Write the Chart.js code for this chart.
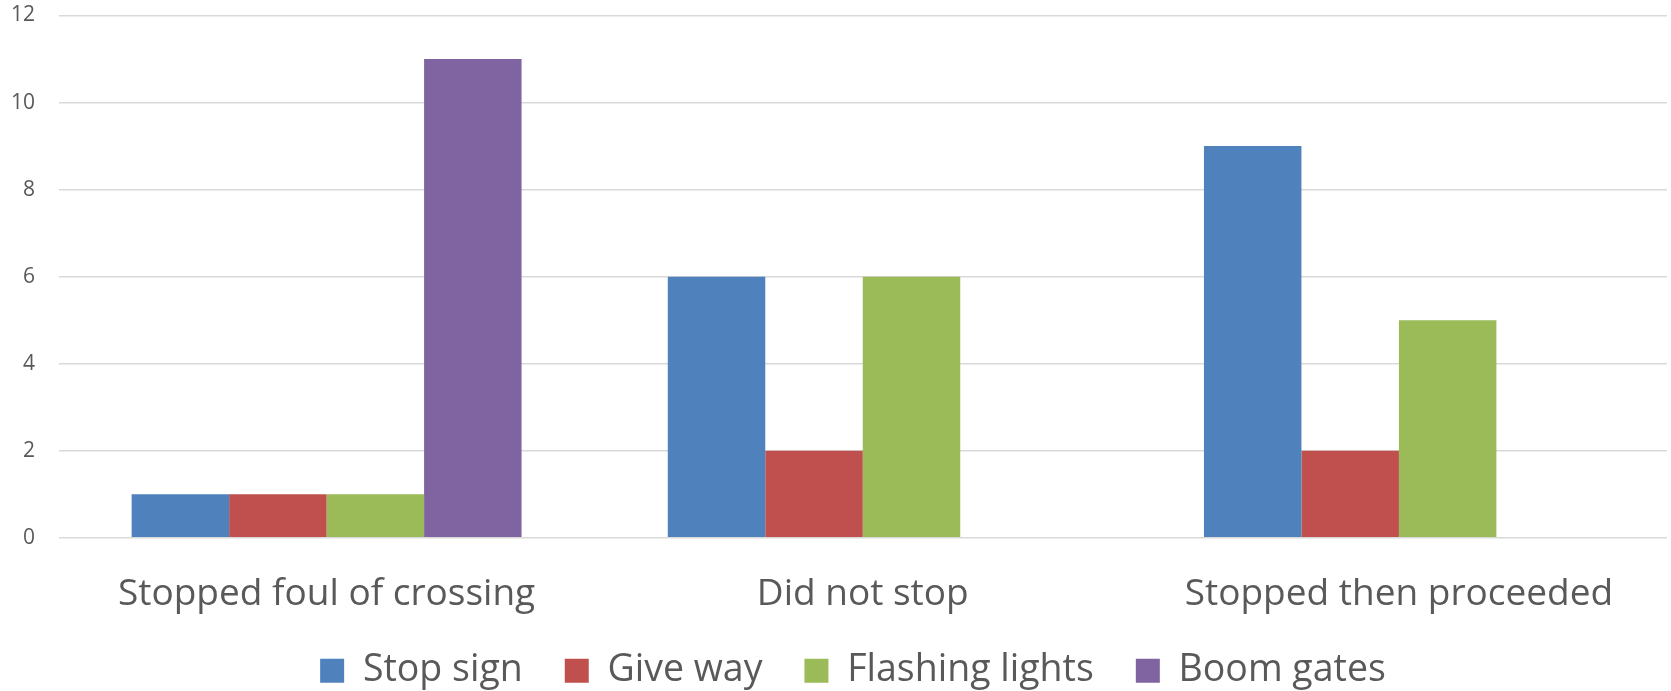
<!DOCTYPE html>
<html>
<head>
<meta charset="utf-8">
<script src="https://cdn.jsdelivr.net/npm/chart.js@4/dist/chart.umd.min.js"></script>
<style>
  html, body { margin: 0; padding: 0; background: #ffffff; }
  #wrap { width: 1671px; height: 691px; position: relative; }
</style>
</head>
<body>
<div id="wrap"><canvas id="chart"></canvas></div>
<script>
// Crossing behaviour by type of level crossing control
const categories = ["Stopped foul of crossing", "Did not stop", "Stopped then proceeded"];
const stopSign = [1, 6, 9];
const giveWay = [1, 2, 2];
const flashingLights = [1, 6, 5];
const boomGates = [11, 0, 0];
const yTicks = [0, 2, 4, 6, 8, 10, 12];

const seriesNames = ["Stop sign", "Give way", "Flashing lights", "Boom gates"];
const seriesColors = ["#4F81BD", "#C0504D", "#9BBB59", "#8064A2"];
const seriesValues = [stopSign, giveWay, flashingLights, boomGates];

const FONT = "'Open Sans', 'Noto Sans', sans-serif";
const TEXT = "#595959";

// Nudge the legend row after layout so it sits under the plot area;
// its box keeps reaching the canvas bottom so descenders are not clipped
const legendOffset = {
  id: "legendOffset",
  afterLayout(chart) {
    const l = chart.legend;
    if (!l) return;
    l.top -= 5;
    l.bottom = chart.height;
    l.height = l.bottom - l.top;
    l.left += 14; l.right += 14;
  }
};

new Chart(document.getElementById("chart"), {
  type: "bar",
  data: {
    labels: categories,
    datasets: seriesNames.map((name, i) => ({
      label: name,
      data: seriesValues[i],
      backgroundColor: seriesColors[i],
      borderWidth: 0,
      categoryPercentage: 4 / 5.5,
      barPercentage: 1.0
    }))
  },
  plugins: [legendOffset],
  options: {
    responsive: true,
    maintainAspectRatio: false,
    animation: false,
    layout: { padding: { top: 0, right: 4, left: 11, bottom: 0 } },
    plugins: {
      tooltip: { enabled: false },
      legend: {
        position: "bottom",
        maxHeight: 76,
        labels: {
          boxWidth: 24,
          boxHeight: 24,
          padding: 42,
          color: TEXT,
          font: { family: FONT, size: 37.5 }
        }
      }
    },
    scales: {
      x: {
        grid: { display: false, drawTicks: false },
        border: { display: false },
        // tick padding only above the labels, none below
        afterFit: (axis) => {
          axis.paddingLeft = 0;
          axis.paddingRight = 0;
          axis.height -= axis.options.ticks.padding;
        },
        ticks: {
          color: TEXT,
          padding: 36.5,
          font: { family: FONT, size: 37, lineHeight: 1.1 }
        }
      },
      y: {
        min: 0,
        max: 12,
        afterBuildTicks: (axis) => { axis.ticks = yTicks.map(v => ({ value: v })); },
        // tick padding only between labels and grid
        afterFit: (axis) => {
          axis.paddingTop = 15.5;
          axis.paddingBottom = 0;
          axis.width -= axis.options.ticks.padding;
        },
        grid: { color: "#d9d9d9", lineWidth: 1.5, drawTicks: false },
        border: { display: false },
        ticks: {
          color: TEXT,
          padding: 23.5,
          font: { family: FONT, size: 21 }
        }
      }
    }
  }
});
</script>
</body>
</html>
